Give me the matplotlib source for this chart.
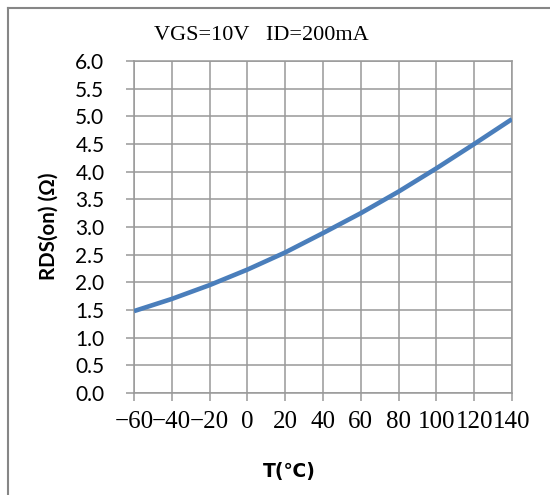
import matplotlib.pyplot as plt
from matplotlib.lines import Line2D

# RDS(on) vs temperature
temps = [-60, -40, -20, 0, 20, 40, 60, 80, 100, 120, 140]
rds_on = [1.48, 1.70, 1.95, 2.23, 2.54, 2.89, 3.25, 3.64, 4.06, 4.50, 4.95]

x_ticks = [-60, -40, -20, 0, 20, 40, 60, 80, 100, 120, 140]
y_ticks = [0.0, 0.5, 1.0, 1.5, 2.0, 2.5, 3.0, 3.5, 4.0, 4.5, 5.0, 5.5, 6.0]

W, H = 550, 495
fig = plt.figure(figsize=(W / 100, H / 100), dpi=100)
ax = fig.add_axes([134 / W, 1 - 393 / H, (512 - 134) / W, (393 - 61) / H])

ax.plot(temps, rds_on, color='#4A7EBB', lw=3.3, solid_capstyle='butt', zorder=3)

ax.set_xlim(-60, 140)
ax.set_ylim(0, 6)
ax.set_xticks(x_ticks)
ax.set_yticks(y_ticks)
ax.set_xticklabels([str(t).replace('-', '\u2212') for t in x_ticks],
                   family='Liberation Serif', fontsize=18)
ax.set_yticklabels([f'{v:.1f}' for v in y_ticks], family='Lato', fontsize=15)

grid_c = '#999999'
ax.grid(True, color=grid_c, lw=1.1)
ax.set_axisbelow(True)
for s in ax.spines.values():
    s.set_color(grid_c)
    s.set_linewidth(1.1)
ax.tick_params(axis='both', direction='out', length=5.8, width=1.1, color=grid_c)
ax.tick_params(axis='x', pad=7.5)
ax.tick_params(axis='y', pad=15.5)

fig.text(261 / W, 1 - 35 / H, 'VGS=10V   ID=200mA', family='Liberation Serif',
         fontsize=16, ha='center', va='center')
fig.text(49 / W, 1 - 226 / H, 'RDS(on) (\u03a9)', family='Lato', fontweight='bold',
         fontsize=14.8, rotation=90, ha='center', va='center')
fig.text(289 / W, 1 - 472 / H, 'T(\u2103)', family=['DejaVu Sans', 'Noto Sans CJK SC'],
         fontweight='bold', fontsize=13.5, ha='center', va='center')

# outer frame (only left and top edges show in the reference)
bx, by = 7.5 / W, 1 - 7.5 / H
fig.add_artist(Line2D([bx, bx], [0, by], color='#868686', lw=1.5, transform=fig.transFigure))
fig.add_artist(Line2D([bx, 1], [by, by], color='#868686', lw=1.5, transform=fig.transFigure))

fig.savefig('out.png', dpi=100)
